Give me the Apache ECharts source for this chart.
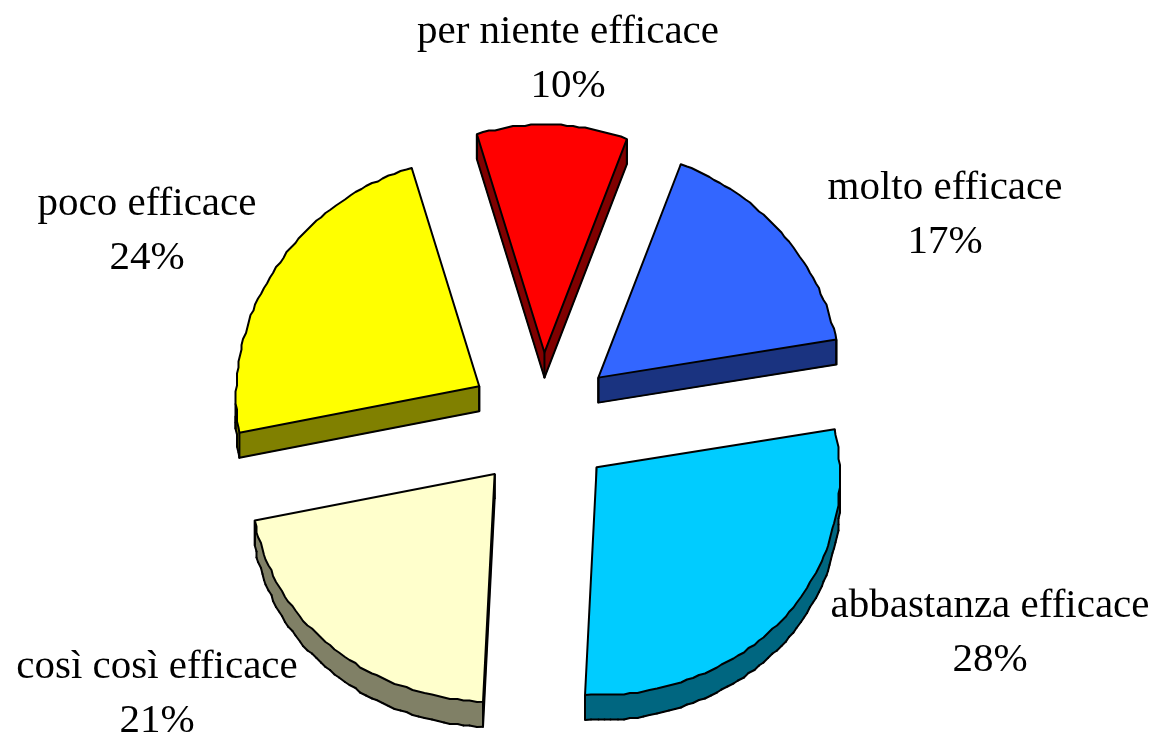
<!DOCTYPE html>
<html>
<head>
<meta charset="utf-8">
<style>
  html, body { margin: 0; padding: 0; background: #fff; }
  #chart { width: 1155px; height: 732px; }
</style>
<script src="https://cdn.jsdelivr.net/npm/echarts@6/dist/echarts.min.js"></script>
</head>
<body>
<div id="chart"></div>
<script>
// clockwise from the top of the pie
var categories = ['per niente efficace', 'molto efficace', 'abbastanza efficace', 'così così efficace', 'poco efficace'];
var values = [10.4, 16.6, 28.4, 21.0, 23.6];
var topColors = ['#ff0000', '#3366ff', '#00ccff', '#ffffcc', '#ffff00'];
var sideColors = ['#800000', '#1a3380', '#006680', '#808066', '#808000'];
var labelX = [568, 945, 990, 157, 147];
var labelY = [59, 215, 633, 694, 231];

var cx = 542, cy = 421.5, rx = 243, ry = 228;
var explodeX = 73, explodeY = 69, depth = 25, startAngle = -16.8, jag = 1.5;
var perspective = 0.04; // far side of the pie is a bit narrower

var total = values.reduce(function (a, b) { return a + b; }, 0);

function rad(deg) { return deg * Math.PI / 180; }
function snap(v) { return Math.round(v / jag) * jag; }

function slicePoints(index) {
  var from = startAngle;
  for (var i = 0; i < index; i++) from += values[i] / total * 360;
  var sweep = values[index] / total * 360;
  var mid = from + sweep / 2;
  var tipX = cx + explodeX * Math.sin(rad(mid));
  var tipY = cy - explodeY * Math.cos(rad(mid));
  var pts = [[tipX, tipY]];
  var steps = Math.ceil(sweep / 1.5);
  for (var s = 0; s <= steps; s++) {
    var a = rad(from + sweep * s / steps);
    var x = tipX + rx * Math.sin(a) * (1 - perspective * Math.cos(a));
    var y = tipY - ry * Math.cos(a);
    // the original arc is a stepped outline
    if (s === 0 || s === steps) pts.push([x, y]);
    else pts.push([snap(x), snap(y)]);
  }
  return pts;
}

function renderSlice(params, api) {
  var i = params.dataIndex;
  var pts = slicePoints(i);
  var down = pts.map(function (p) { return [p[0], p[1] + depth]; });
  var children = [];

  // side walls: points run clockwise, so an edge going left faces the viewer
  for (var k = 0; k < pts.length; k++) {
    var n = (k + 1) % pts.length;
    if (pts[n][0] - pts[k][0] > 0) continue;
    children.push({
      type: 'polygon',
      shape: { points: [pts[k], pts[n], down[n], down[k]] },
      style: { fill: sideColors[i], stroke: sideColors[i], lineWidth: 1 },
      silent: true
    });
  }
  for (k = 0; k < pts.length; k++) {
    n = (k + 1) % pts.length;
    if (pts[n][0] - pts[k][0] > 0) continue;
    children.push({
      type: 'line',
      shape: { x1: down[k][0], y1: down[k][1], x2: down[n][0], y2: down[n][1] },
      style: { stroke: '#000', lineWidth: 2, lineCap: 'round' },
      silent: true
    });
  }

  // vertical edges: tip, both ends of the arc, and the leftmost/rightmost points
  var minK = 0, maxK = 0;
  pts.forEach(function (p, j) {
    if (p[0] < pts[minK][0]) minK = j;
    if (p[0] > pts[maxK][0]) maxK = j;
  });
  [0, 1, pts.length - 1, minK, maxK].forEach(function (j) {
    children.push({
      type: 'line',
      shape: { x1: pts[j][0], y1: pts[j][1], x2: down[j][0], y2: down[j][1] },
      style: { stroke: '#000', lineWidth: 2 },
      silent: true
    });
  });

  // top face
  children.push({
    type: 'polygon',
    shape: { points: pts },
    style: { fill: topColors[i], stroke: '#000', lineWidth: 2, lineJoin: 'round' },
    silent: true
  });

  return { type: 'group', children: children };
}

function renderLabel(params, api) {
  var i = params.dataIndex;
  return {
    type: 'text',
    x: labelX[i],
    y: labelY[i],
    style: {
      text: categories[i] + '\n' + Math.round(values[i] / total * 100) + '%',
      fill: '#000',
      font: '41px "Liberation Serif", "Times New Roman", serif',
      lineHeight: 54,
      align: 'center',
      verticalAlign: 'middle'
    },
    silent: true
  };
}

var chart = echarts.init(document.getElementById('chart'), null, { renderer: 'canvas' });

var option = {
  backgroundColor: '#fff',
  animation: false,
  tooltip: { show: false },
  series: [
    {
      type: 'custom',
      coordinateSystem: 'none',
      data: values,
      renderItem: renderSlice,
      z: 2
    },
    {
      type: 'custom',
      coordinateSystem: 'none',
      data: values,
      renderItem: renderLabel,
      z: 3
    }
  ]
};

chart.setOption(option);
</script>
</body>
</html>
